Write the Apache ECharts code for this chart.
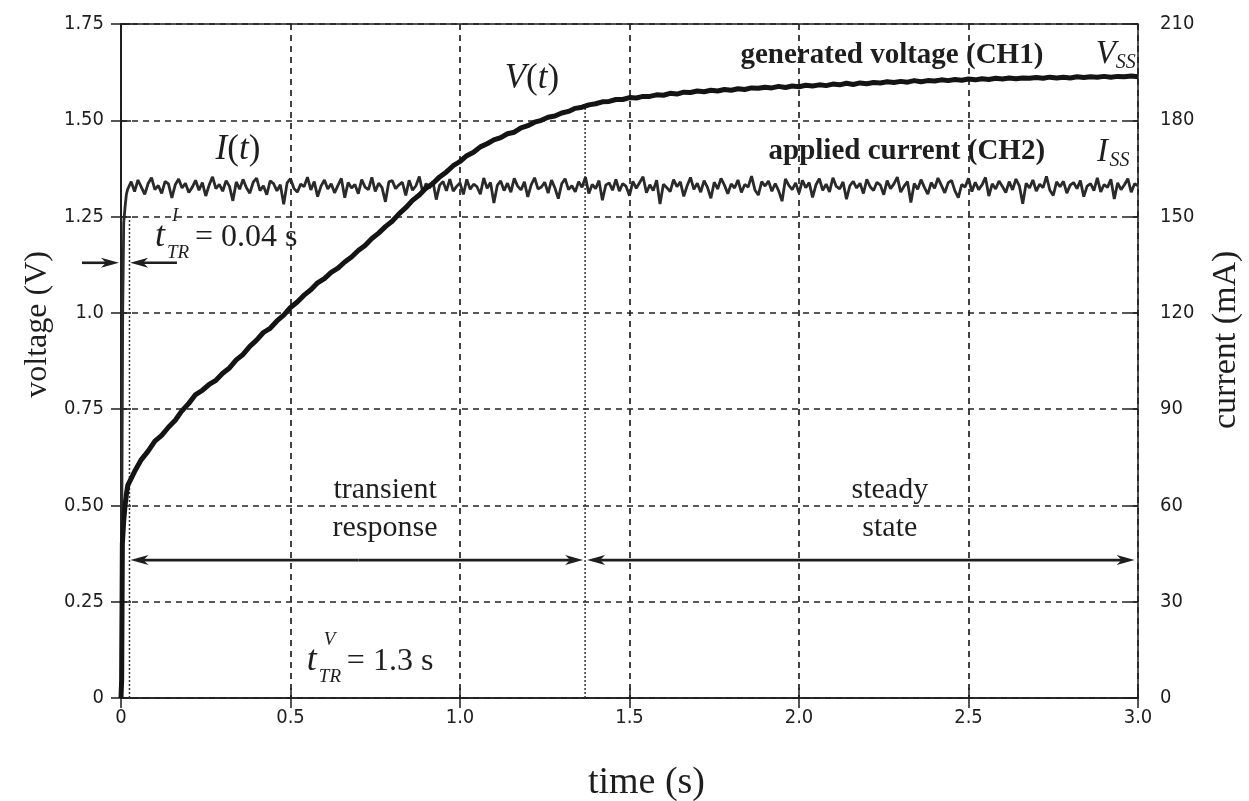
<!DOCTYPE html>
<html><head><meta charset="utf-8">
<script src="https://cdn.jsdelivr.net/npm/echarts@6/dist/echarts.min.js"></script>
<style>html,body{margin:0;padding:0;background:#fff}#c{width:1249px;height:801px}</style>
</head><body><div id="c"></div>
<script>
// ---------------- data ----------------
const timeRange = [0, 3.0];          // s
const timeInterval = 0.5;
const voltageRange = [0, 1.75];      // V
const voltageInterval = 0.25;
const currentRange = [0, 210];       // mA
const currentInterval = 30;

// fast initial rise of the generated voltage [t (s), V]
const voltageRise = [[0,0],[0.002,0.05],[0.004,0.40],[0.008,0.46],[0.012,0.50],[0.016,0.53]];
// generated voltage (CH1), sampled every 0.02 s from 0.02 s
const voltageStart = 0.02, voltageStep = 0.02;
const voltageValues = [
0.552,0.588,0.619,0.641,0.667,0.682,0.703,0.721,0.746,0.765,
0.788,0.799,0.814,0.825,0.843,0.857,0.878,0.892,0.913,0.929,
0.949,0.960,0.979,0.994,1.014,1.028,1.046,1.060,1.078,1.089,
1.105,1.116,1.132,1.145,1.162,1.175,1.193,1.207,1.224,1.238,
1.257,1.273,1.292,1.306,1.324,1.336,1.353,1.366,1.382,1.393,
1.408,1.417,1.431,1.439,1.449,1.455,1.465,1.469,1.480,1.486,
1.495,1.500,1.508,1.511,1.519,1.523,1.531,1.534,1.540,1.543,
1.548,1.549,1.554,1.554,1.559,1.558,1.562,1.562,1.566,1.565,
1.570,1.568,1.573,1.572,1.576,1.574,1.578,1.576,1.580,1.578,
1.582,1.580,1.584,1.583,1.586,1.584,1.588,1.585,1.589,1.587,
1.591,1.589,1.592,1.590,1.594,1.592,1.596,1.593,1.597,1.595,
1.598,1.597,1.600,1.598,1.601,1.599,1.603,1.600,1.603,1.602,
1.605,1.603,1.606,1.604,1.607,1.605,1.608,1.606,1.609,1.607,
1.610,1.608,1.610,1.609,1.611,1.609,1.612,1.610,1.612,1.610,
1.613,1.611,1.613,1.612,1.614,1.612,1.614,1.613,1.615,1.613
];

// step of the applied current [t (s), mA]
const currentRise = [[0,0],[0.003,0],[0.005,120],[0.008,148],[0.012,153],[0.016,157]];
// applied current (CH2), sampled every 0.01 s from 0.02 s
const currentStart = 0.02, currentStep = 0.01;
const currentValues = [
158.6,160.9,157.8,161.4,159.2,156.9,160.3,162.1,158.4,159.7,157.2,161.0,160.2,155.8,159.9,161.7,158.9,160.4,157.5,159.1,
161.3,158.2,160.6,156.4,159.8,162.4,158.7,160.0,157.9,161.2,159.4,154.9,160.8,158.5,161.6,159.0,157.3,160.7,162.0,158.1,
159.6,156.8,161.1,160.3,158.0,159.9,153.8,160.5,161.8,158.8,157.6,160.1,159.3,162.3,158.3,160.9,156.2,159.5,161.4,158.6,
160.2,157.4,159.7,161.9,155.9,160.6,158.9,160.0,157.1,161.5,159.2,158.4,162.2,157.8,160.4,159.0,154.6,160.8,161.2,158.7,
159.9,160.7,156.6,161.3,158.2,159.6,162.5,157.5,160.3,158.9,161.0,155.3,159.8,160.9,158.0,161.7,157.9,159.4,160.5,156.9,
161.6,158.5,160.1,159.3,157.0,162.0,158.8,160.6,154.2,159.7,161.1,158.1,160.4,157.6,161.9,159.5,158.3,160.8,156.1,159.9,
162.1,158.6,159.2,160.7,157.3,161.4,158.9,155.6,160.2,161.8,158.4,159.6,157.7,160.9,159.1,162.3,157.2,160.0,158.7,161.2,
155.1,159.8,160.5,158.2,161.6,157.9,160.3,159.4,156.5,161.0,158.8,160.6,162.4,157.4,159.9,158.1,161.3,153.9,160.1,159.0,
157.8,161.5,159.3,160.8,156.3,159.6,162.2,158.5,160.4,157.6,161.2,159.1,155.7,160.7,158.6,161.9,159.8,157.1,160.2,158.9,
161.4,157.5,160.0,159.2,162.6,158.3,156.7,160.9,159.5,161.1,157.9,160.3,158.0,154.8,161.7,159.7,158.4,160.5,157.3,161.3,
159.0,160.6,156.0,159.9,161.8,158.2,160.1,157.7,162.1,159.4,158.6,160.8,155.4,159.6,161.0,158.9,160.4,157.2,161.6,159.3,
158.1,160.7,159.8,156.8,161.2,158.7,160.2,162.3,157.6,159.5,160.9,154.4,160.3,158.5,161.5,159.1,157.0,160.6,158.8,162.0,
159.7,157.4,160.5,161.3,158.0,155.9,160.0,159.2,161.9,157.8,160.7,158.4,159.9,162.2,156.4,160.2,158.6,161.1,159.4,157.5,
160.9,158.3,161.7,159.6,154.0,160.4,158.9,161.4,157.9,160.1,159.0,162.5,158.2,156.6,160.8,159.3,161.0,157.3,159.8,160.6,
158.7,161.2,156.2,159.5,160.3,158.1,162.1,157.7,160.0,159.1,161.6,155.5,160.5,158.4,159.9,161.8,157.6,160.2,159.6
];

// transient times (dotted markers): [t, top voltage]
const transientMarks = [[0.025, 1.25], [1.369, 1.535]];
// horizontal arrows [t from, t to (tip), V]
const arrowsData = [
  [0.70, 0.028, 0.358], [0.70, 1.363, 0.358],   // transient response
  [2.18, 1.375, 0.358], [2.18, 2.99, 0.358],    // steady state
  [-0.115, -0.006, 1.13], [0.165, 0.027, 1.13]  // t_TR^I
];

// ---------------- chart ----------------
const ink = '#1e1e1e';
const tickFont = {color: ink, fontFamily: '"Liberation Sans Narrow", "DejaVu Sans Condensed", "Liberation Sans"', fontSize: 20};
const dash = {type: [6, 5], color: '#222', width: 1.7};

function mk(start, step, vals) { return vals.map((v, i) => [+(start + i * step).toFixed(3), v]); }
const voltageData = voltageRise.concat(mk(voltageStart, voltageStep, voltageValues));
const currentData = currentRise.concat(mk(currentStart, currentStep, currentValues));

const xFmt = v => v === 0 ? '0' : v.toFixed(1);
const yFmt = v => v === 0 ? '0' : (v === 1 ? '1.0' : v.toFixed(2));

const chart = echarts.init(document.getElementById('c'), null, {renderer: 'canvas'});
const option = {
  animation: false,
  backgroundColor: '#fff',
  grid: {left: 121, right: 111, top: 24, bottom: 103, show: true, borderColor: ink, borderWidth: 1.5,
         containLabel: false, outerBoundsMode: 'none'},
  xAxis: [
    {type: 'value', min: timeRange[0], max: timeRange[1], interval: timeInterval, position: 'bottom',
     axisLine: {show: true, lineStyle: {color: ink, width: 1.5}},
     axisTick: {show: true, length: 10, lineStyle: {color: ink, width: 1.5}},
     axisLabel: Object.assign({margin: 10, formatter: xFmt}, tickFont),
     splitLine: {show: true, lineStyle: dash}},
    {type: 'value', min: timeRange[0], max: timeRange[1], interval: timeInterval, position: 'bottom',
     axisLine: {show: false}, axisLabel: {show: false}, splitLine: {show: false},
     axisTick: {show: true, inside: true, length: 10, lineStyle: {color: ink, width: 1.5}}}
  ],
  yAxis: [
    {type: 'value', min: voltageRange[0], max: voltageRange[1], interval: voltageInterval, position: 'left',
     axisLine: {show: true, lineStyle: {color: ink, width: 1.5}},
     axisTick: {show: true, length: 10, lineStyle: {color: ink, width: 1.5}},
     axisLabel: Object.assign({margin: 17, formatter: yFmt}, tickFont),
     splitLine: {show: true, lineStyle: dash}},
    {type: 'value', min: currentRange[0], max: currentRange[1], interval: currentInterval, position: 'right',
     axisLine: {show: true, lineStyle: {color: ink, width: 1.5}},
     axisTick: {show: true, length: 10, lineStyle: {color: ink, width: 1.5}},
     axisLabel: Object.assign({margin: 22}, tickFont),
     splitLine: {show: false}},
    {type: 'value', min: voltageRange[0], max: voltageRange[1], interval: voltageInterval, position: 'left',
     axisLine: {show: false}, axisLabel: {show: false}, splitLine: {show: false},
     axisTick: {show: true, inside: true, length: 10, lineStyle: {color: ink, width: 1.5}}},
    {type: 'value', min: currentRange[0], max: currentRange[1], interval: currentInterval, position: 'right',
     axisLine: {show: false}, axisLabel: {show: false}, splitLine: {show: false},
     axisTick: {show: true, inside: true, length: 10, lineStyle: {color: ink, width: 1.5}}}
  ],
  series: [
    {name: 'applied current (CH2)', type: 'line', xAxisIndex: 0, yAxisIndex: 1, data: currentData,
     showSymbol: false, symbol: 'none', sampling: null, z: 3,
     lineStyle: {color: '#2a2a2a', width: 2.8}},
    {name: 'generated voltage (CH1)', type: 'line', xAxisIndex: 0, yAxisIndex: 0, data: voltageData,
     showSymbol: false, symbol: 'none', z: 4,
     lineStyle: {color: '#141414', width: 5, join: 'round'}}
  ].concat(transientMarks.map(m => ({
     type: 'line', xAxisIndex: 0, yAxisIndex: 0, data: [[m[0], 0], [m[0], m[1]]],
     showSymbol: false, symbol: 'none', z: 2, silent: true,
     lineStyle: {color: '#333', width: 1.5, type: [2, 2]}})))
};
chart.setOption(option);

// ---------------- annotations placed through the axes' scales ----------------
const P = (t, v) => chart.convertToPixel({xAxisIndex: 0, yAxisIndex: 0}, [t, v]);
const serif = 'Liberation Serif';
function txt(p, text, size, extra) {
  return Object.assign({type: 'text', x: p[0], y: p[1], z: 100,
    style: Object.assign({text: text, fill: ink, fontFamily: serif, fontSize: size,
      align: 'center', verticalAlign: 'middle'}, extra || {})});
}
const els = [];
// arrows
arrowsData.forEach(a => {
  const p1 = P(a[0], a[2]), p2 = P(a[1], a[2]);
  const d = Math.sign(p2[0] - p1[0]);
  const L = 18, W = 5;
  els.push({type: 'line', z: 90, shape: {x1: p1[0], y1: p1[1], x2: p2[0] - d * L * 0.6, y2: p2[1]},
            style: {stroke: ink, lineWidth: 2.6}});
  els.push({type: 'polygon', z: 90, shape: {points: [[p2[0], p2[1]], [p2[0] - d * L, p2[1] - W],
            [p2[0] - d * L * 0.72, p2[1]], [p2[0] - d * L, p2[1] + W]]}, style: {fill: ink}});
});
// labels
const rich = {
  i: {fontFamily: serif, fontStyle: 'italic', fontSize: 35, fill: ink},
  p: {fontFamily: serif, fontSize: 35, fill: ink}
};
els.push(txt(P(0.345, 1.423), '{i|I}{p|(}{i|t}{p|)}', 35, {rich: rich}));
els.push(txt(P(1.212, 1.607), '{i|V}{p|(}{i|t}{p|)}', 35, {rich: rich}));
els.push(txt(P(2.274, 1.668), 'generated voltage (CH1)', 29, {fontWeight: 'bold'}));
els.push(txt(P(2.318, 1.418), 'applied current (CH2)', 29, {fontWeight: 'bold'}));
// V_SS and I_SS
(function () {
  const pv = P(2.905, 1.672), pi = P(2.895, 1.418);
  els.push(txt(pv, 'V', 33, {fontStyle: 'italic'}));
  els.push(txt([pv[0] + 20, pv[1] + 9], 'SS', 20, {fontStyle: 'italic'}));
  els.push(txt(pi, 'I', 33, {fontStyle: 'italic'}));
  els.push(txt([pi[0] + 17, pi[1] + 9], 'SS', 20, {fontStyle: 'italic'}));
})();
// t_TR labels
function tLabel(anchor, sup, rest) {
  const p = P(anchor[0], anchor[1]);
  els.push(txt(p, 't', 36, {fontStyle: 'italic'}));
  els.push(txt([p[0] + 12, p[1] - 21], sup, 19, {fontStyle: 'italic', align: 'left'}));
  els.push(txt([p[0] + 7, p[1] + 16], 'TR', 19, {fontStyle: 'italic', align: 'left'}));
  els.push(txt([p[0] + 35, p[1] + 1], rest, 32, {align: 'left'}));
}
tLabel([0.115, 1.197], 'I', '= 0.04 s');
tLabel([0.563, 0.096], 'V', '= 1.3 s');
// region labels
els.push(txt(P(0.779, 0.540), 'transient', 30));
els.push(txt(P(0.779, 0.441), 'response', 30));
els.push(txt(P(2.268, 0.540), 'steady', 30));
els.push(txt(P(2.268, 0.441), 'state', 30));
// axis titles
const gl = P(0, 0.97), gr = P(3.0, 0.93), gb = P(1.55, 0);
els.push(txt([gl[0] - 83, gl[1]], 'voltage (V)', 32, {}));
els[els.length - 1].rotation = Math.PI / 2;
els.push(txt([gr[0] + 88, gr[1]], 'current (mA)', 34, {}));
els[els.length - 1].rotation = Math.PI / 2;
els.push(txt([gb[0], gb[1] + 85], 'time (s)', 38, {}));

chart.setOption({graphic: {elements: els}});
</script></body></html>
